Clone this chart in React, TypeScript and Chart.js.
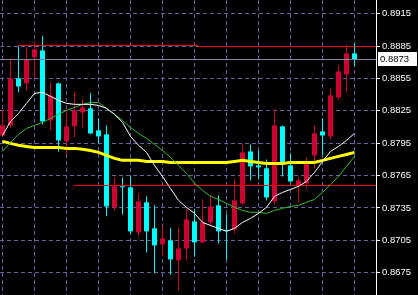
import { useEffect, useRef } from 'react';
import { Chart, registerables } from 'chart.js';
Chart.register(...registerables);

// OHLC candles (one per bar, left to right)
const candleOpen = [0.88022, 0.88115, 0.88551, 0.88504, 0.88745, 0.88810, 0.88161, 0.88504, 0.87967, 0.88106,
  0.88235, 0.88273, 0.88069, 0.88032, 0.87355, 0.87550, 0.87541, 0.87124, 0.87402, 0.87161,
  0.87012, 0.87049, 0.86864, 0.86975, 0.87225, 0.87031, 0.87216, 0.87374, 0.87147, 0.87151,
  0.87392, 0.87874, 0.87744, 0.87717, 0.87411, 0.88106, 0.87744, 0.87559, 0.87578, 0.87837,
  0.88059, 0.88013, 0.88374, 0.88588, 0.88782];
const candleClose = [0.88115, 0.88551, 0.88476, 0.88727, 0.88819, 0.88152, 0.88393, 0.87976, 0.88106, 0.88254,
  0.88282, 0.88041, 0.88013, 0.87364, 0.87550, 0.87541, 0.87133, 0.87411, 0.87133, 0.87003,
  0.87068, 0.86873, 0.86975, 0.87244, 0.87031, 0.87216, 0.87364, 0.87133, 0.87137, 0.87420,
  0.87865, 0.87735, 0.87726, 0.87448, 0.88115, 0.87754, 0.87596, 0.87605, 0.87763, 0.88041,
  0.88022, 0.88393, 0.88615, 0.88782, 0.88730];
const candleHigh = [0.88263, 0.88717, 0.88847, 0.88838, 0.88884, 0.88940, 0.88513, 0.88513, 0.88263, 0.88421,
  0.88356, 0.88412, 0.88180, 0.88115, 0.87633, 0.87633, 0.87642, 0.87485, 0.87457, 0.87374,
  0.87179, 0.87161, 0.87170, 0.87337, 0.87337, 0.87429, 0.87466, 0.87466, 0.87290, 0.87615,
  0.87939, 0.87939, 0.87883, 0.87800, 0.88263, 0.88115, 0.87856, 0.87633, 0.87818, 0.88115,
  0.88180, 0.88458, 0.88671, 0.88866, 0.88875];
const candleLow = [0.88013, 0.88096, 0.88421, 0.88439, 0.88551, 0.88124, 0.88069, 0.87874, 0.87846, 0.88004,
  0.88096, 0.88032, 0.87948, 0.87272, 0.87327, 0.87290, 0.87114, 0.87086, 0.86938, 0.86744,
  0.86901, 0.86734, 0.86586, 0.86873, 0.86901, 0.87022, 0.87179, 0.87022, 0.86873, 0.87114,
  0.87374, 0.87605, 0.87615, 0.87420, 0.87383, 0.87642, 0.87587, 0.87402, 0.87531, 0.87717,
  0.87846, 0.87985, 0.88347, 0.88430, 0.88662];

// Moving averages
const maFast = [0.88022, 0.88152, 0.88226, 0.88319, 0.88412, 0.88421, 0.88384, 0.88347, 0.88319, 0.88310,
  0.88310, 0.88310, 0.88300, 0.88273, 0.88217, 0.88143, 0.88013, 0.87930, 0.87865, 0.87744,
  0.87642, 0.87531, 0.87420, 0.87355, 0.87300, 0.87216, 0.87188, 0.87161, 0.87133, 0.87161,
  0.87216, 0.87253, 0.87300, 0.87355, 0.87457, 0.87494, 0.87522, 0.87550, 0.87596, 0.87680,
  0.87781, 0.87874, 0.87920, 0.87976, 0.88041];
const maSlow = [0.87874, 0.87957, 0.88032, 0.88087, 0.88115, 0.88143, 0.88180, 0.88217, 0.88254, 0.88282,
  0.88310, 0.88328, 0.88328, 0.88273, 0.88217, 0.88161, 0.88096, 0.88041, 0.87995, 0.87939,
  0.87883, 0.87818, 0.87744, 0.87670, 0.87578, 0.87513, 0.87457, 0.87429, 0.87392, 0.87355,
  0.87327, 0.87309, 0.87309, 0.87300, 0.87327, 0.87346, 0.87364, 0.87374, 0.87402, 0.87429,
  0.87494, 0.87568, 0.87642, 0.87735, 0.87828];
const maLong = [0.87967, 0.87948, 0.87930, 0.87920, 0.87911, 0.87911, 0.87911, 0.87911, 0.87902, 0.87902,
  0.87893, 0.87883, 0.87865, 0.87837, 0.87809, 0.87791, 0.87791, 0.87791, 0.87781, 0.87781,
  0.87781, 0.87772, 0.87772, 0.87772, 0.87772, 0.87772, 0.87772, 0.87772, 0.87772, 0.87781,
  0.87791, 0.87781, 0.87772, 0.87763, 0.87763, 0.87763, 0.87772, 0.87772, 0.87772, 0.87772,
  0.87791, 0.87809, 0.87828, 0.87846, 0.87865];

// Axis
const priceTicks = [0.8915, 0.8885, 0.8855, 0.8825, 0.8795, 0.8765, 0.8735, 0.8705, 0.8675];
const Y_MIN = 0.8654336;
const Y_MAX = 0.8927695;
const X_MIN = -0.3125;
const X_MAX = 46.6875;

// Current price and horizontal level lines (price, from bar, to bar)
const currentPrice = 0.8873;
const levelPrice = [0.88858, 0.8885, 0.87559];
const levelFrom = [1.9375, 24.4375, 8.9375];
const levelTo = [24.4375, X_MAX, X_MAX];

const UP = '#cc0033';
const DOWN = '#00ffff';
const GRID = '#62629e';

export default function App() {
  const ref = useRef<HTMLCanvasElement>(null);
  useEffect(() => {
    const idx = candleOpen.map((_, i) => i);
    const colors = idx.map((i) => (candleClose[i] >= candleOpen[i] ? UP : DOWN));

    const bgPlugin = {
      id: 'bg',
      beforeDraw(chart: any) {
        const c = chart.ctx;
        c.save();
        c.fillStyle = '#000';
        c.fillRect(0, 0, chart.width, chart.height);
        c.restore();
      },
    };
    const levelPlugin = {
      id: 'levels',
      afterDatasetDraw(chart: any, args: any) {
        if (args.index !== 1) return;
        const xs = chart.scales.x;
        const ys = chart.scales.y;
        const c = chart.ctx;
        const line = (v: number, x0: number, x1: number, color: string) => {
          const y = Math.round(ys.getPixelForValue(v) - 0.5) + 0.5;
          c.beginPath();
          c.moveTo(Math.round(xs.getPixelForValue(x0)), y);
          c.lineTo(Math.round(xs.getPixelForValue(x1)), y);
          c.strokeStyle = color;
          c.lineWidth = 1;
          c.stroke();
        };
        c.save();
        line(currentPrice, X_MIN, X_MAX, '#8282aa');
        levelPrice.forEach((p, k) => line(p, levelFrom[k], levelTo[k], '#ff0000'));
        c.restore();
      },
    };
    const pricePlugin = {
      id: 'priceLabel',
      afterDraw(chart: any) {
        const y = Math.round(chart.scales.y.getPixelForValue(currentPrice));
        const c = chart.ctx;
        const left = chart.chartArea.right + 2;
        c.save();
        c.fillStyle = '#fff';
        c.fillRect(left, y - 7, 39, 14);
        c.fillStyle = '#000';
        c.font = '9.5px "Liberation Sans"';
        c.textBaseline = 'middle';
        c.textAlign = 'left';
        c.fillText(currentPrice.toFixed(4), left + 2, y + 0.5);
        c.restore();
      },
    };

    const chart = new Chart(ref.current as HTMLCanvasElement, {
      type: 'bar',
      data: {
        datasets: [
          {
            type: 'bar',
            data: idx.map((i) => ({ x: i, y: [candleLow[i], candleHigh[i]] })),
            backgroundColor: colors,
            barThickness: 1,
            grouped: false,
            inflateAmount: 0,
            borderWidth: 0,
            order: 10,
          },
          {
            type: 'bar',
            data: idx.map((i) => ({ x: i, y: [candleOpen[i], candleClose[i]] })),
            backgroundColor: colors,
            barThickness: 5,
            grouped: false,
            inflateAmount: 0,
            borderWidth: 0,
            minBarLength: 1,
            order: 9,
          },
          {
            type: 'line',
            data: idx.map((i) => ({ x: i, y: maLong[i] })),
            borderColor: '#ffff00',
            borderWidth: 3,
            pointRadius: 0,
            order: 3,
          },
          {
            type: 'line',
            data: idx.map((i) => ({ x: i, y: maSlow[i] })),
            borderColor: '#33bb33',
            borderWidth: 1,
            pointRadius: 0,
            order: 2,
          },
          {
            type: 'line',
            data: idx.map((i) => ({ x: i, y: maFast[i] })),
            borderColor: '#ffffff',
            borderWidth: 1,
            pointRadius: 0,
            order: 1,
          },
        ] as any,
      },
      options: {
        animation: false,
        responsive: false,
        maintainAspectRatio: false,
        devicePixelRatio: 1,
        events: [],
        layout: { padding: 0, autoPadding: false } as any,
        plugins: { legend: { display: false }, tooltip: { enabled: false } },
        scales: {
          x: {
            type: 'linear',
            offset: false,
            min: X_MIN,
            max: X_MAX,
            ticks: { display: false, stepSize: 4, includeBounds: false } as any,
            grid: { color: GRID, drawTicks: false, lineWidth: 1, offset: false },
            border: { display: false, dash: [4, 3] },
            afterFit: (s: any) => {
              s.height = 0;
              s.paddingLeft = 0;
              s.paddingRight = 0;
            },
          },
          y: {
            type: 'linear',
            position: 'right',
            offset: false,
            min: Y_MIN,
            max: Y_MAX,
            afterBuildTicks: (s: any) => {
              s.ticks = priceTicks.map((v) => ({ value: v }));
            },
            afterFit: (s: any) => {
              s.width = 42;
              s.paddingTop = 0;
              s.paddingBottom = 0;
            },
            ticks: {
              color: '#ffffff',
              padding: 2,
              font: { family: 'Liberation Sans', size: 9.5 },
              callback: (v: any) => Number(v).toFixed(4),
            },
            grid: {
              color: GRID,
              tickColor: '#ffffff',
              tickLength: 4,
              tickBorderDash: [],
              lineWidth: 1,
            } as any,
            border: { display: true, color: '#ffffff', width: 1, dash: [4, 3] },
          },
        },
      },
      plugins: [bgPlugin, levelPlugin, pricePlugin],
    } as any);
    return () => chart.destroy();
  }, []);
  return (
    <div style={{ position: 'fixed', left: 0, top: 0, width: 418, height: 295, background: '#000' }}>
      <canvas ref={ref} width={418} height={295} style={{ display: 'block', width: 418, height: 295 }} />
    </div>
  );
}
